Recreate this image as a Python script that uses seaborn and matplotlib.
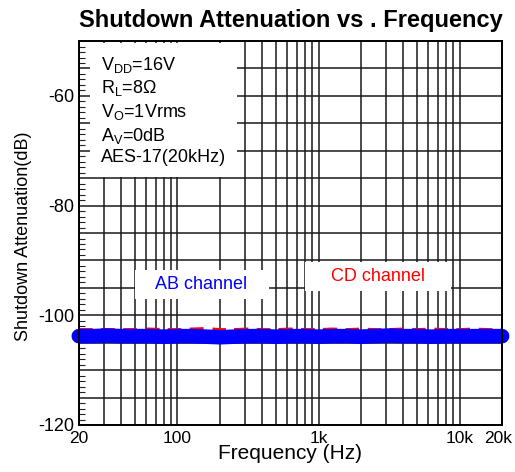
import matplotlib
matplotlib.use("Agg")
import matplotlib.pyplot as plt
import matplotlib.ticker as mticker
import matplotlib.transforms as mtransforms
import seaborn as sns
import pandas as pd

# Measurement data: shutdown attenuation vs frequency
freq_hz = [20, 25, 31.5, 40, 50, 63, 80, 100, 125, 160, 200, 250, 315, 400, 500,
           630, 800, 1000, 1250, 1600, 2000, 2500, 3150, 4000, 5000, 6300, 8000,
           10000, 12500, 16000, 20000]
ab_channel_db = [-103.8, -103.8, -103.7, -103.8, -103.8, -103.8, -103.9, -103.8,
                 -103.8, -103.9, -104.0, -103.9, -103.8, -103.8, -103.9, -103.8,
                 -103.8, -103.9, -103.8, -103.8, -103.9, -103.8, -103.7, -103.8,
                 -103.8, -103.9, -103.8, -103.8, -103.8, -103.8, -103.8]
cd_channel_db = [-103.6, -103.6, -103.6, -103.6, -103.6, -103.5, -103.6, -103.6,
                 -103.5, -103.4, -103.6, -103.6, -103.5, -103.6, -103.6, -103.5,
                 -103.6, -103.6, -103.5, -103.6, -103.5, -103.6, -103.6, -103.5,
                 -103.6, -103.5, -103.6, -103.6, -103.5, -103.6, -103.6]

x_tick_values = [20, 100, 1000, 10000, 20000]
x_tick_labels = ["20", "100", "1k", "10k", "20k"]
y_label_values = [-120, -100, -80, -60]

conditions = [r"V$_{\mathrm{DD}}$=16V",
              r"R$_{\mathrm{L}}$=8$\Omega$",
              r"V$_{\mathrm{O}}$=1Vrms",
              r"A$_{\mathrm{V}}$=0dB",
              "AES-17(20kHz)"]

df = pd.DataFrame({
    "freq": freq_hz * 2,
    "db": cd_channel_db + ab_channel_db,
    "channel": ["CD"] * len(freq_hz) + ["AB"] * len(freq_hz),
})

sns.set_theme(style="white")
plt.rcParams["font.family"] = ["Liberation Sans", "DejaVu Sans"]
plt.rcParams["mathtext.fontset"] = "custom"
plt.rcParams["mathtext.rm"] = "Liberation Sans"
plt.rcParams["mathtext.it"] = "Liberation Sans:italic"
plt.rcParams["mathtext.bf"] = "Liberation Sans:bold"
for key in ("text.color", "axes.labelcolor", "xtick.color", "ytick.color",
            "axes.titlecolor"):
    plt.rcParams[key] = "black"

fig = plt.figure(figsize=(5.15, 4.72), dpi=100)
ax = fig.add_axes([0.153, 0.0996, 0.822, 0.8134])

sns.lineplot(data=df[df.channel == "CD"], x="freq", y="db", color="#ff0000",
             linewidth=10, linestyle=(0, (1.0, 0.6)), ax=ax, zorder=3,
             dash_capstyle="butt", clip_on=False)
sns.lineplot(data=df[df.channel == "AB"], x="freq", y="db", color="#0000ff",
             linewidth=10.5, ax=ax, zorder=4, solid_capstyle="round",
             clip_on=False)

ax.set_xscale("log")
ax.set_xlim(20, 20000)
ax.set_ylim(-120, -50)

# Vertical grid at every 1-2-3...9 step of each decade
grid_x = [m * 10 ** e for e in range(1, 5) for m in range(1, 10)]
grid_x = [v for v in grid_x if 20 <= v <= 20000]
ax.xaxis.set_major_locator(mticker.FixedLocator(grid_x))
label_map = dict(zip(x_tick_values, x_tick_labels))
ax.xaxis.set_major_formatter(mticker.FuncFormatter(
    lambda v, p: label_map.get(int(round(v)), "")))
ax.xaxis.set_minor_locator(mticker.NullLocator())
ax.tick_params(axis="x", which="major", length=0, pad=4, labelsize=12.5)

# Horizontal grid every 5 dB, small inward ticks every 1 dB
ax.yaxis.set_major_locator(mticker.MultipleLocator(5))
ax.yaxis.set_major_formatter(mticker.FuncFormatter(
    lambda v, p: f"{int(round(v))}" if int(round(v)) in y_label_values else ""))
ax.yaxis.set_minor_locator(mticker.MultipleLocator(1))
ax.tick_params(axis="y", which="major", length=0, pad=3, labelsize=13)
ax.tick_params(axis="y", which="minor", direction="in", length=4, width=0.8,
               color="#222222", left=True)

ax.grid(True, which="major", color="#1a1a1a", linewidth=1.1)
ax.set_axisbelow(True)
for s in ax.spines.values():
    s.set_color("black")
    s.set_linewidth(1.4)
    s.set_zorder(5)

ax.set_xlabel("Frequency (Hz)", fontsize=15, labelpad=-1)
ax.set_ylabel("Shutdown Attenuation(dB)", fontsize=13)
ax.yaxis.set_label_coords(-0.111, 0.492)
ax.set_title("Shutdown Attenuation vs . Frequency", fontsize=17,
             fontweight="bold", pad=10)

# Test-condition block
ax.text(0.052, 0.965, "\n".join(conditions), transform=ax.transAxes,
        fontsize=13, va="top", ha="left", linespacing=1.25, zorder=6,
        bbox=dict(boxstyle="square,pad=0.6", facecolor="white", edgecolor="none"))

# Channel labels
ax.text(149, -94.4, "   AB channel   ", color="#0000ff", fontsize=13,
        ha="center", va="center", zorder=6,
        bbox=dict(boxstyle="square,pad=0.35", facecolor="white", edgecolor="none"))
ax.text(2640, -92.9, "    CD channel    ", color="#ff0000", fontsize=13,
        ha="center", va="center", zorder=6,
        bbox=dict(boxstyle="square,pad=0.35", facecolor="white", edgecolor="none"))

if ax.get_legend() is not None:
    ax.get_legend().remove()

# Nudge the last frequency label so it stays inside the figure
fig.canvas.draw()
last_tick = ax.xaxis.get_major_ticks()[-1].label1
last_tick.set_transform(last_tick.get_transform() +
                        mtransforms.ScaledTranslation(-4 / 100, 0, fig.dpi_scale_trans))

fig.savefig("out.png", dpi=100)
